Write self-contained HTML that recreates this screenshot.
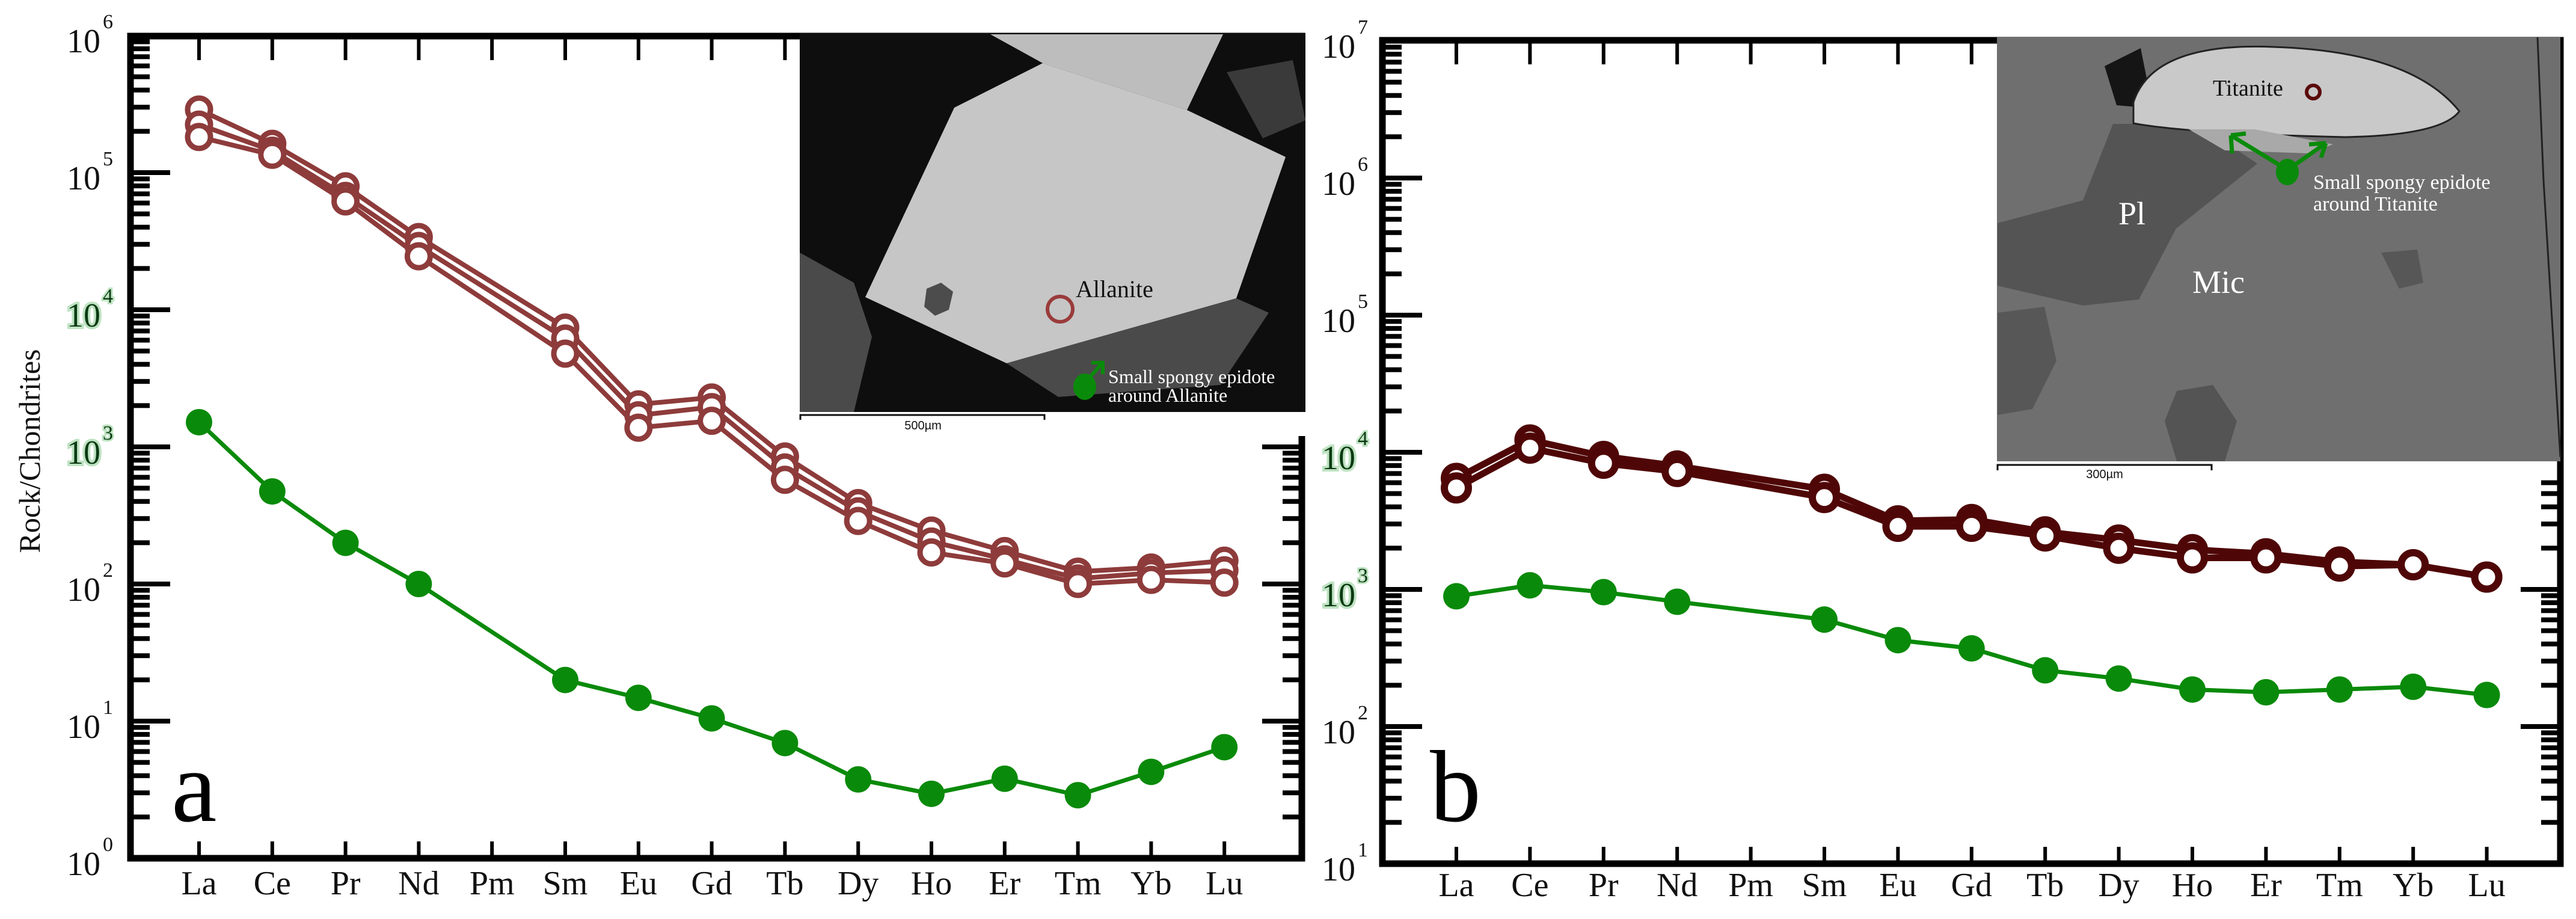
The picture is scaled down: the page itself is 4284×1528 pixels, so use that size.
<!DOCTYPE html>
<html><head><meta charset="utf-8"><style>
html,body{margin:0;padding:0;background:#fff;}
svg{display:block;font-family:"Liberation Serif","DejaVu Serif",serif;}
</style></head><body>
<svg id="fig" width="4284" height="1528" viewBox="0 0 4284 1528" xmlns="http://www.w3.org/2000/svg" font-family="Liberation Serif, serif">
  <g id="panelA"></g>
  <g id="panelB"></g>
</svg>
<script>
const elements = ["La","Ce","Pr","Nd","Pm","Sm","Eu","Gd","Tb","Dy","Ho","Er","Tm","Yb","Lu"];
// Panel a: allanite (3 analyses) and spongy epidote, log10 values (null = Pm)
const allaniteA1 = [5.46,5.21,4.90,4.53,null,3.87,3.31,3.36,2.93,2.59,2.39,2.24,2.09,2.12,2.17];
const allaniteA2 = [5.35,5.16,4.83,4.465,null,3.79,3.23,3.29,2.85,2.53,2.31,2.18,2.04,2.08,2.10];
const allaniteA3 = [5.26,5.13,4.79,4.39,null,3.68,3.14,3.19,2.76,2.46,2.23,2.15,2.00,2.03,2.01];
const epidoteA   = [3.18,2.675,2.30,2.00,null,1.30,1.17,1.02,0.84,0.575,0.47,0.58,0.46,0.63,0.81];
// Panel b: titanite (2 analyses) and spongy epidote
const titaniteB1 = [3.81,4.09,3.97,3.90,null,3.73,3.50,3.51,3.42,3.36,3.29,3.26,3.20,3.18,3.09];
const titaniteB2 = [3.74,4.03,3.92,3.86,null,3.67,3.46,3.46,3.39,3.30,3.23,3.23,3.17,3.18,3.09];
const epidoteB   = [2.95,3.03,2.98,2.91,null,2.78,2.63,2.57,2.41,2.35,2.27,2.25,2.27,2.29,2.23];
const decadesA = [0,1,2,3,4,5,6];
const decadesB = [1,2,3,4,5,6,7];

const NS="http://www.w3.org/2000/svg";
function mk(parent,tag,attrs,text){const e=document.createElementNS(NS,tag);for(const k in attrs)e.setAttribute(k,attrs[k]);if(tag==='text'&&!attrs['font-family'])e.setAttribute('font-family','Liberation Serif, serif');if(text!==undefined)e.textContent=text;parent.appendChild(e);return e;}

function panel(g,cfg){
  const xs=i=>cfg.x0+i*cfg.dx;
  const ys=l=>cfg.yBottom-(l-cfg.minDec)*cfg.D;
  const L=cfg.left,R=cfg.right,T=cfg.top,B=cfg.yBottom;
  const fr=mk(g,'rect',{x:L,y:T,width:R-L,height:B-T,fill:'none',stroke:'#000','stroke-width':11});
  
  
  for(let d=cfg.minDec;d<=cfg.maxDec;d++){
    for(let m=1;m<=9;m++){
      if(d===cfg.maxDec&&m>1)break;
      const y=ys(d+Math.log10(m));
      const len=m===1?66:32;
      const t=mk(g,'rect',{x:L-4,y:y-4,width:len+4,height:8,fill:'#000'});
      
      
      if(y>=cfg.rightTickStart){
        const t2=mk(g,'rect',{x:R-len,y:y-4,width:len+4,height:8,fill:'#000'});
        
        
      }
    }
  }
  cfg.decs.forEach(d=>{
    const y=ys(d);
    const glow=cfg.glow.includes(d);
    const tx=mk(g,'text',{x:cfg.labX,y:y+28,'font-size':56,'text-anchor':'end',fill:glow?'#0b3a12':'#111',stroke:glow?'#bfe3c2':'none','stroke-width':glow?8:0,'paint-order':'stroke'},'10');
    
    
    const ex=mk(g,'text',{x:cfg.labX+4,y:y-12,'font-size':34,fill:glow?'#0b3a12':'#111',stroke:glow?'#bfe3c2':'none','stroke-width':glow?6:0,'paint-order':'stroke'},String(d));
    
    
  });
  elements.forEach((el,i)=>{
    const x=xs(i);
    const bt=mk(g,'rect',{x:x-3,y:B-28,width:6,height:28,fill:'#000'});
    
    
    const tt=mk(g,'rect',{x:x-3,y:T,width:6,height:40,fill:'#000'});
    
    
    const lb=mk(g,'text',{x:x,y:cfg.xLabY,'font-size':56,'text-anchor':'middle',fill:'#111'},el);
    
    
  });
  cfg.inset(g);
  cfg.series.forEach(s=>{
    const pts=[];s.data.forEach((v,i)=>{if(v!==null)pts.push([xs(i),ys(v)]);});
    const pl=mk(g,'polyline',{points:pts.map(p=>p.join(',')).join(' '),fill:'none',stroke:s.color,'stroke-width':s.lw,'stroke-linejoin':'round'});
    
    
    pts.forEach(p=>{
      const c=mk(g,'circle',{cx:p[0],cy:p[1],r:s.r,fill:s.filled?s.color:'#fff',stroke:s.color,'stroke-width':s.filled?0:s.sw});
      
      
    });
  });
  const letter=mk(g,'text',{x:cfg.letterX,y:1365,'font-size':170,fill:'#000'},cfg.letter);
  
  
}

function insetA(g){
  const ig=mk(g,'g',{});
  
  
  mk(ig,'rect',{x:1330,y:55,width:841,height:630,fill:'#0e0e0e'});
  mk(ig,'polygon',{points:'1330,420 1420,470 1450,560 1420,685 1330,685',fill:'#4a4a4a'});
  mk(ig,'polygon',{points:'1647,57 2034,57 1974,183 1734,105',fill:'#bdbdbd'});
  mk(ig,'polygon',{points:'2040,120 2150,100 2171,200 2100,230',fill:'#3a3a3a'});
  mk(ig,'polygon',{points:'1587,179 1734,105 1974,183 2138,261 2056,496 1674,604 1439,494',fill:'#c6c6c6'});
  mk(ig,'polygon',{points:'1674,604 2056,496 2110,520 2030,640 1760,660',fill:'#4a4a4a'});
  mk(ig,'polygon',{points:'1541,480 1565,470 1585,485 1578,515 1555,525 1537,510',fill:'#4c4c4c'});
  mk(ig,'circle',{cx:1763,cy:514,r:21,fill:'none',stroke:'#9a3b3b','stroke-width':6});
  const t1=mk(ig,'text',{x:1789,y:494,'font-size':40,fill:'#111'},'Allanite');
  
  
  mk(ig,'ellipse',{cx:1804,cy:643,rx:19,ry:22,fill:'#0a8a0a'});
  mk(ig,'path',{d:'M1810,630 L1832,605 M1815,603 L1834,603 L1834,622',stroke:'#0a8a0a','stroke-width':6,fill:'none'});
  const t2=mk(ig,'text',{x:1843,y:637,'font-size':32,fill:'#fff'},'Small spongy epidote');
  
  
  const t3=mk(ig,'text',{x:1843,y:668,'font-size':32,fill:'#fff'},'around Allanite');
  
  
  mk(ig,'rect',{x:1330,y:685,width:841,height:40,fill:'#fff'});
  mk(ig,'path',{d:'M1331,698 L1331,690 L1737,690 L1737,698',stroke:'#111','stroke-width':3,fill:'none'});
  const sb=mk(ig,'text',{x:1535,y:714,'font-size':20,'text-anchor':'middle',fill:'#111','font-family':'Liberation Sans, sans-serif'},'500µm');
  
  
}
function insetB(g){
  const ig=mk(g,'g',{});
  
  
  mk(ig,'rect',{x:3321,y:62,width:937,height:705,fill:'#6f6f6f'});
  mk(ig,'polygon',{points:'3514,206 3656,206 3754,272 3619,380 3557,498 3464,508 3322,475 3322,371 3464,333',fill:'#545454'});
  mk(ig,'polygon',{points:'3322,520 3400,510 3420,600 3380,680 3322,690',fill:'#575757'});
  mk(ig,'polygon',{points:'3620,650 3680,640 3720,700 3700,767 3620,767 3600,700',fill:'#545454'});
  mk(ig,'polygon',{points:'3960,420 4020,415 4030,470 3990,480',fill:'#575757'});
  mk(ig,'polygon',{points:'3500,110 3560,80 3580,180 3520,175',fill:'#151515'});
  mk(ig,'path',{d:'M3548,170 Q3580,70 3780,78 Q4010,85 4090,185 Q4060,225 3900,228 Q3640,222 3548,205 Z',fill:'#c9c9c9',stroke:'#222','stroke-width':3});
  mk(ig,'polygon',{points:'3640,215 3750,215 3880,240 3840,255 3700,250',fill:'#a9a9a9'});
  mk(ig,'path',{d:'M4220,62 L4230,300 L4258,760',stroke:'#222','stroke-width':3,fill:'none'});
  const tt=mk(ig,'text',{x:3680,y:159,'font-size':38,fill:'#111'},'Titanite');
  
  
  mk(ig,'circle',{cx:3847,cy:153,r:11,fill:'none',stroke:'#5a0a0a','stroke-width':6});
  mk(ig,'ellipse',{cx:3804,cy:286,rx:19,ry:22,fill:'#0a8a0a'});
  mk(ig,'path',{d:'M3800,280 L3710,225 M3710,225 L3712,255 M3710,225 L3735,222 M3808,280 L3868,238 M3868,238 L3840,240 M3868,238 L3860,262',stroke:'#0a8a0a','stroke-width':7,fill:'none'});
  const e1=mk(ig,'text',{x:3847,y:314,'font-size':34,fill:'#fff'},'Small spongy epidote');
  
  
  const e2=mk(ig,'text',{x:3847,y:350,'font-size':34,fill:'#fff'},'around Titanite');
  
  
  const pl=mk(ig,'text',{x:3523,y:373,'font-size':54,fill:'#fff'},'Pl');
  
  
  const mc=mk(ig,'text',{x:3646,y:487,'font-size':54,fill:'#fff'},'Mic');
  
  
  mk(ig,'rect',{x:3321,y:767,width:930,height:30,fill:'#fff'});
  mk(ig,'path',{d:'M3322,782 L3322,773 L3678,773 L3678,782',stroke:'#111','stroke-width':3,fill:'none'});
  const sb=mk(ig,'text',{x:3500,y:795,'font-size':20,'text-anchor':'middle',fill:'#111','font-family':'Liberation Sans, sans-serif'},'300µm');
  
  
}

const gA=document.getElementById('panelA');
const gB=document.getElementById('panelB');
const yl=mk(gA,'text',{x:0,y:0,'font-size':50,'text-anchor':'middle',fill:'#111',transform:'translate(66,750) rotate(-90)'},'Rock/Chondrites');



const redA='#8e3b3b',green='#0a8a0a',redB='#4f0606';
panel(gA,{x0:331,dx:121.8,yBottom:1427,D:228,minDec:0,maxDec:6,decs:decadesA,left:217,right:2165,top:60,
  rightTickStart:740,labX:167,glow:[3,4],xLabY:1487,letter:'a',letterX:285,inset:insetA,
  series:[
   {name:'allanite-1',data:allaniteA1,color:redA,lw:8,r:19,sw:9,filled:false},
   {name:'allanite-2',data:allaniteA2,color:redA,lw:8,r:19,sw:9,filled:false},
   {name:'allanite-3',data:allaniteA3,color:redA,lw:8,r:19,sw:9,filled:false},
   {name:'epidote-a',data:epidoteA,color:green,lw:7,r:22,filled:true}]});
panel(gB,{x0:2422,dx:122.4,yBottom:1436,D:228,minDec:1,maxDec:7,decs:decadesB,left:2299,right:4258,top:67,
  rightTickStart:798,labX:2254,glow:[3,4],xLabY:1490,letter:'b',letterX:2378,inset:insetB,
  series:[
   {name:'titanite-1',data:titaniteB1,color:redB,lw:11,r:20,sw:12,filled:false},
   {name:'titanite-2',data:titaniteB2,color:redB,lw:11,r:20,sw:12,filled:false},
   {name:'epidote-b',data:epidoteB,color:green,lw:7,r:22,filled:true}]});
</script>
</body></html>
